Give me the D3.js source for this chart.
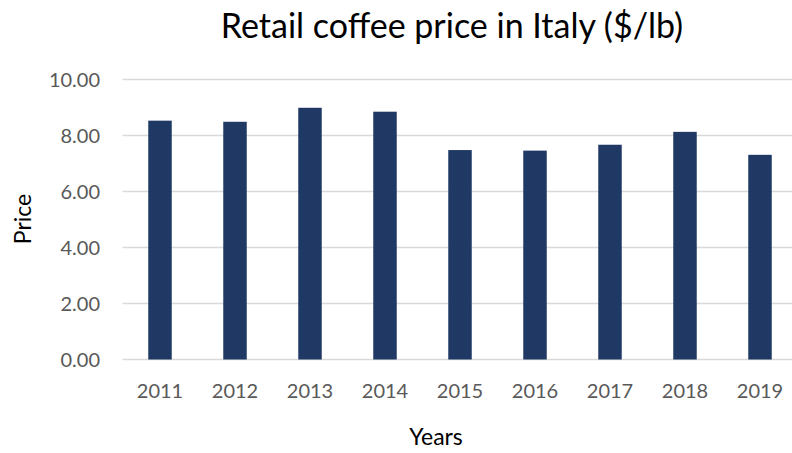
<!DOCTYPE html>
<html>
<head>
<meta charset="utf-8">
<script src="https://cdn.jsdelivr.net/npm/d3@7/dist/d3.min.js"></script>
<style>
  html, body { margin: 0; padding: 0; background: #fff; }
  svg { display: block; font-family: Lato, "Open Sans", sans-serif; }
</style>
</head>
<body>
<svg id="chart" width="792" height="453"></svg>
<script>
// Retail coffee price in Italy, US dollars per pound
const years = ["2011", "2012", "2013", "2014", "2015", "2016", "2017", "2018", "2019"];
const prices = [8.53, 8.49, 8.99, 8.85, 7.48, 7.46, 7.67, 8.13, 7.31];
const yTicks = [0, 2, 4, 6, 8, 10];

const svg = d3.select("#chart");
const margin = { left: 122.5, right: -5.5, top: 79.5, bottom: 93.5 };
const W = 792, H = 453;

const x = d3.scaleBand()
  .domain(years)
  .range([margin.left, W - margin.right])
  .padding(0);

const y = d3.scaleLinear()
  .domain([0, 10])
  .range([H - margin.bottom, margin.top]);

const barW = x.step() * 0.313;

// horizontal gridlines
svg.append("g")
  .selectAll("line")
  .data(yTicks)
  .join("line")
  .attr("x1", margin.left)
  .attr("x2", W - margin.right)
  .attr("y1", d => y(d))
  .attr("y2", d => y(d))
  .attr("stroke", "#d9d9d9")
  .attr("stroke-width", 1.5);

// y tick labels
svg.append("g")
  .selectAll("text")
  .data(yTicks)
  .join("text")
  .attr("x", 100)
  .attr("y", d => y(d))
  .attr("dy", "0.35em")
  .attr("text-anchor", "end")
  .attr("font-size", 20)
  .attr("fill", "#595959")
  .text(d => d3.format(".2f")(d));

// bars
svg.append("g")
  .selectAll("rect")
  .data(prices)
  .join("rect")
  .attr("x", (d, i) => x(years[i]) + x.bandwidth() / 2 - barW / 2)
  .attr("y", d => y(d))
  .attr("width", barW)
  .attr("height", d => y(0) - y(d))
  .attr("fill", "#203864");

// x tick labels
svg.append("g")
  .selectAll("text")
  .data(years)
  .join("text")
  .attr("x", d => x(d) + x.bandwidth() / 2)
  .attr("y", 391)
  .attr("dy", "0.35em")
  .attr("text-anchor", "middle")
  .attr("font-size", 20)
  .attr("fill", "#595959")
  .text(d => d);

// axis titles
svg.append("text")
  .attr("x", 436)
  .attr("y", 437)
  .attr("dy", "0.35em")
  .attr("text-anchor", "middle")
  .attr("font-size", 23)
  .attr("fill", "#000")
  .text("Years");

svg.append("text")
  .attr("transform", "translate(23,219) rotate(-90)")
  .attr("dy", "0.35em")
  .attr("text-anchor", "middle")
  .attr("font-size", 23)
  .attr("fill", "#000")
  .text("Price");

// chart title
svg.append("text")
  .attr("x", 452)
  .attr("y", 38)
  .attr("text-anchor", "middle")
  .attr("font-size", 34)
  .attr("fill", "#000")
  .text("Retail coffee price in Italy ($/lb)");
</script>
</body>
</html>
